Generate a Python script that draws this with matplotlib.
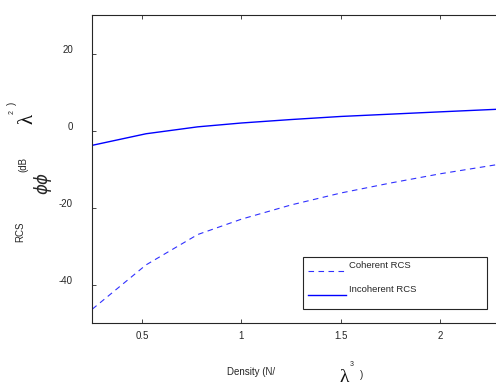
import numpy as np
import matplotlib
matplotlib.use('Agg')
import matplotlib.pyplot as plt
import matplotlib.transforms as mtransforms
from matplotlib.lines import Line2D
from matplotlib.patches import Rectangle

plt.rcParams['font.family'] = ['Liberation Sans', 'DejaVu Sans']
plt.rcParams['mathtext.fontset'] = 'dejavusans'

# data
density = [0.25, 0.52, 0.78, 1.0, 1.25, 1.5, 1.75, 2.0, 2.3]
coherent_rcs = [-46.4, -34.9, -27.0, -23.0, -19.3, -16.2, -13.6, -11.2, -8.7]
incoherent_rcs = [-3.8, -0.8, 1.0, 2.0, 2.9, 3.7, 4.3, 4.9, 5.6]
xticks = [0.5, 1, 1.5, 2]
xticklabels = ['0.5', '1', '1.5', '2']
yticks = [-40, -20, 0, 20]
yticklabels = ['-40', '-20', '0', '20']
legend_labels = ['Coherent RCS', 'Incoherent RCS']

W, H = 496, 385
fig = plt.figure(figsize=(W / 100, H / 100), dpi=100)


def fx(px):
    return px / W


def fy(py):
    return 1 - py / H


# axes box runs slightly past the right edge of the picture
ax = fig.add_axes([92.3 / W, 62 / H, (500 - 92.3) / W, (323 - 15.3) / H])

coh_style = dict(color='#3030ff', lw=0.8, linestyle=(0, (5, 4)))
inc_style = dict(color='#0000ff', lw=1.0)
ax.plot(density, coherent_rcs, **coh_style)
ax.plot(density, incoherent_rcs, **inc_style)

ax.set_xlim(0.25, 2.3)
ax.set_ylim(-50, 30)
ax.set_xticks(xticks)
ax.set_xticklabels(xticklabels)
ax.set_yticks(yticks)
ax.set_yticklabels(yticklabels)

ax.tick_params(direction='in', length=3, width=0.6, colors='#262626',
               labelsize=7, top=True, right=True)
ax.tick_params(axis='y', pad=14)
ax.tick_params(axis='x', pad=6)
for sp in ax.spines.values():
    sp.set_linewidth(0.8)
    sp.set_color('#262626')

# matlab export puts y labels a bit above their ticks
off = mtransforms.ScaledTranslation(0, 5 / 100, fig.dpi_scale_trans)
for lab in ax.get_yticklabels():
    lab.set_transform(lab.get_transform() + off)

# legend box, matlab style (short handles, wide box)
fig.add_artist(Rectangle((fx(303.3), fy(309.3)), fx(487.3) - fx(303.3),
                         fy(256.7) - fy(309.3), transform=fig.transFigure,
                         facecolor='white', edgecolor='#262626', lw=0.8, zorder=5))
fig.add_artist(Line2D([fx(307.7), fx(346)], [fy(271), fy(271)],
                      transform=fig.transFigure, zorder=6, **coh_style))
fig.add_artist(Line2D([fx(307.7), fx(346)], [fy(295), fy(295)],
                      transform=fig.transFigure, zorder=6, **inc_style))
fig.text(fx(349.3), fy(266), legend_labels[0], ha='left', va='center',
         fontsize=6.8, color='#262626', zorder=7)
fig.text(fx(349.3), fy(289.3), legend_labels[1], ha='left', va='center',
         fontsize=6.8, color='#262626', zorder=7)

# y label pieces
fig.text(fx(20.7), fy(231.7), 'RCS', rotation=90, ha='center', va='center',
         fontsize=7, color='#262626')
fig.text(fx(42.7), fy(183.3), r'$\phi\phi$', rotation=90, ha='center', va='center',
         fontsize=12, color='#262626')
fig.text(fx(23.3), fy(165), '(dB', rotation=90, ha='center', va='center',
         fontsize=7, color='#262626')
fig.text(fx(28.3), fy(119.3), 'λ', rotation=90, ha='center', va='center',
         fontsize=15, color='#111111', family=['Liberation Serif', 'DejaVu Serif'])
fig.text(fx(11.7), fy(112.3), '2', rotation=90, ha='center', va='center',
         fontsize=5, color='#262626')
fig.text(fx(11.7), fy(103.3), ')', rotation=90, ha='center', va='center',
         fontsize=7, color='#262626')

# x label pieces
fig.text(fx(251.5), fy(372), 'Density (N/', ha='center', va='center',
         fontsize=7, color='#262626')
fig.text(fx(344.3), fy(378), 'λ', ha='center', va='center',
         fontsize=14, color='#111111', family=['Liberation Serif', 'DejaVu Serif'])
fig.text(fx(352), fy(364), '3', ha='center', va='center',
         fontsize=5, color='#262626')
fig.text(fx(361.7), fy(375), ')', ha='center', va='center',
         fontsize=7, color='#262626')

fig.savefig('out.png', dpi=100)
